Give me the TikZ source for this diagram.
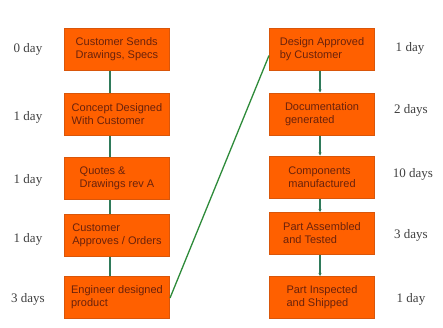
\documentclass[tikz,border=0pt]{standalone}
\usepackage{fontspec}
\setmainfont{Liberation Serif}
\newfontfamily\boxfont{Liberation Sans}
\usetikzlibrary{arrows.meta}
\definecolor{boxfill}{HTML}{FF6000}
\definecolor{boxedge}{HTML}{D9560A}
\definecolor{boxtext}{HTML}{6A220C}
\definecolor{linkgreen}{HTML}{2E8B3A}
\definecolor{linkteal}{HTML}{2F7A5A}
\begin{document}
\begin{tikzpicture}[x=1pt,y=-1pt,
  stepbox/.style={draw=boxedge, line width=1pt, fill=boxfill, minimum width=105pt, minimum height=42pt,
    inner sep=1pt, align=left, text=boxtext, font=\boxfont\fontsize{11}{13}\selectfont},
  daylabel/.style={font=\fontsize{13}{15}\selectfont, text=black!75},
  vlink/.style={draw=linkteal, line width=1.2pt},
  vlinkarr/.style={draw=linkteal, line width=1.2pt, -{Stealth[length=3pt,width=3pt]}}
]
\useasboundingbox (0,0) rectangle (443,327);
\fill[white] (0,0) rectangle (443,327);
% left column
\node[stepbox] (l1) at (117,49.5) {Customer Sends\\Drawings, Specs};
\node[stepbox] (l2) at (117,114) {Concept Designed\\With Customer};
\node[stepbox] (l3) at (117,178) {Quotes \&\\Drawings rev A};
\node[stepbox] (l4) at (117,235) {Customer\\Approves / Orders};
\node[stepbox] (l5) at (117,297) {Engineer designed\\product};
% right column
\node[stepbox] (r1) at (322,49.5) {Design Approved\\by Customer};
\node[stepbox] (r2) at (322,114) {Documentation\\generated};
\node[stepbox] (r3) at (322,177) {Components\\manufactured};
\node[stepbox] (r4) at (322,233.5) {Part Assembled\\and Tested};
\node[stepbox] (r5) at (322,297.5) {Part Inspected\\and Shipped};
% day labels
\node[daylabel] (dl1) at (28,49) {0 day};
\node[daylabel] (dl2) at (28,117) {1 day};
\node[daylabel] (dl3) at (28,180) {1 day};
\node[daylabel] (dl4) at (28,239) {1 day};
\node[daylabel] (dl5) at (28,299) {3 days};
\node[daylabel] (dr1) at (410,48) {1 day};
\node[daylabel] (dr2) at (411,110) {2 days};
\node[daylabel] (dr3) at (413,174) {10 days};
\node[daylabel] (dr4) at (411,235) {3 days};
\node[daylabel] (dr5) at (411,299) {1 day};
% connectors
\draw[vlink] ([xshift=-7pt]l1.south) -- ([xshift=-7pt]l2.north);
\draw[vlink] ([xshift=-7pt]l2.south) -- ([xshift=-7pt]l3.north);
\draw[vlink] ([xshift=-7pt]l3.south) -- ([xshift=-7pt]l4.north);
\draw[vlink] ([xshift=-7pt]l4.south) -- ([xshift=-7pt]l5.north);
\draw[vlinkarr] ([xshift=-2pt]r1.south) -- ([xshift=-2pt]r2.north);
\draw[vlinkarr] ([xshift=-2pt]r2.south) -- ([xshift=-2pt]r3.north);
\draw[vlinkarr] ([xshift=-2pt]r3.south) -- ([xshift=-2pt]r4.north);
\draw[vlinkarr] ([xshift=-2pt]r4.south) -- ([xshift=-2pt]r5.north);
\draw[draw=linkgreen, line width=1.3pt] ([yshift=-1pt]l5.east) -- ([yshift=-6pt]r1.west);
\end{tikzpicture}
\end{document}
